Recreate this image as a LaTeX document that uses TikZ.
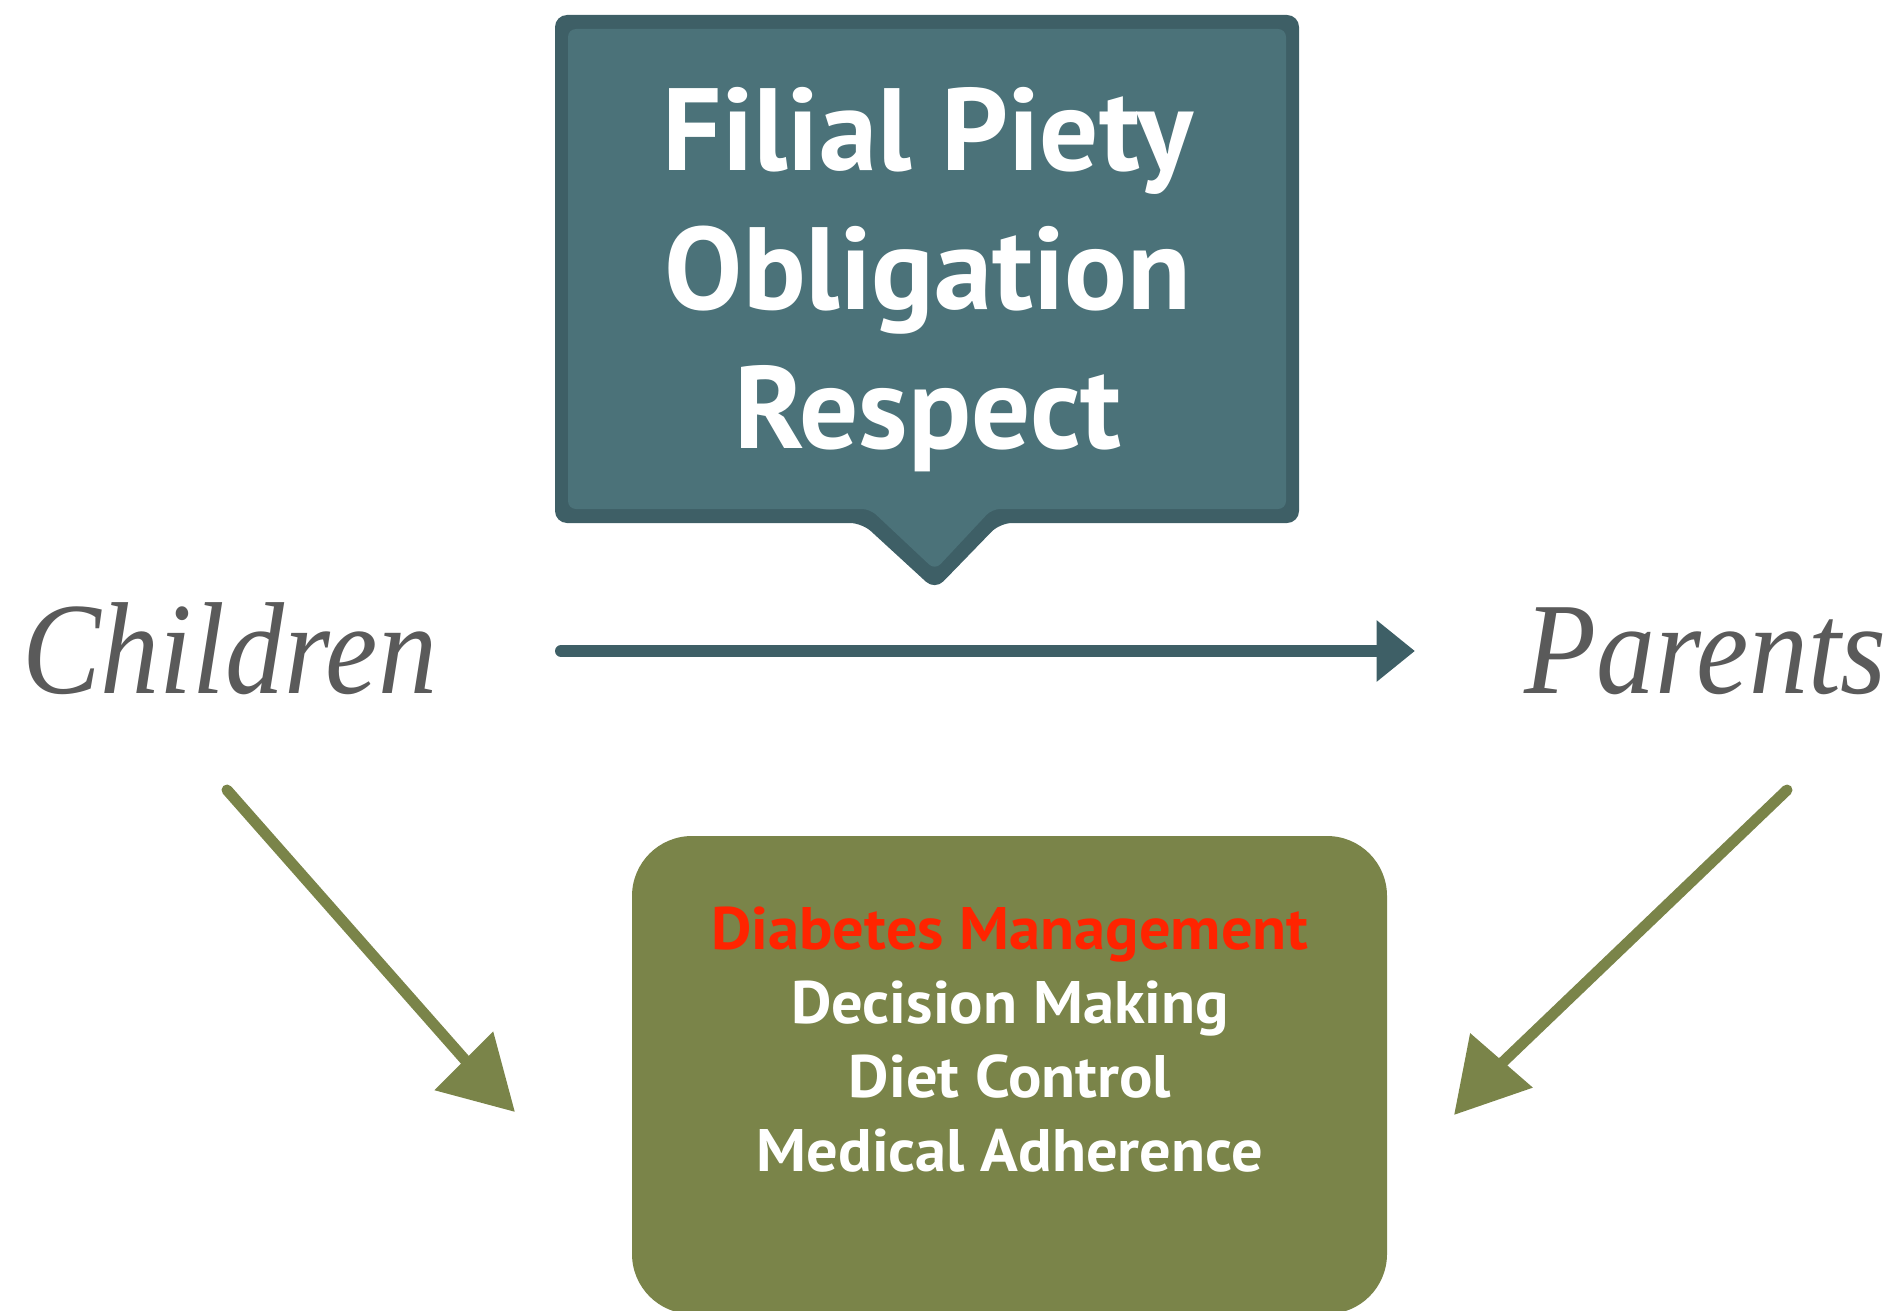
\documentclass[tikz,border=0pt]{standalone}
\usepackage{fontspec}
\setmainfont{Liberation Serif}
\newfontfamily\boxfont{PT Sans}
\usetikzlibrary{calc,shapes.geometric}
\definecolor{tealdark}{HTML}{3E5F66}
\definecolor{teallight}{HTML}{4B7279}
\definecolor{olivegr}{HTML}{7A8449}
\definecolor{redtxt}{HTML}{FF2400}
\definecolor{graytxt}{HTML}{5A5A5A}
\tikzset{
  bigtxt/.style={font=\boxfont\bfseries\fontsize{117}{139}\selectfont, text=white, align=center, inner sep=0pt},
  smalltxt/.style={font=\boxfont\bfseries\fontsize{60}{74}\selectfont, text=white, align=center, inner sep=0pt},
  sidetxt/.style={font=\itshape\fontsize{131}{140}\selectfont, text=graytxt, inner sep=0pt},
  shaftline/.style={draw=olivegr, line width=11pt, line cap=round},
  headnode/.style={isosceles triangle, isosceles triangle apex angle=60, fill=olivegr, inner sep=0pt, minimum height=72pt, anchor=apex},
  tealhead/.style={isosceles triangle, isosceles triangle apex angle=78, fill=tealdark, inner sep=0pt, minimum height=38pt, anchor=apex},
  tealline/.style={draw=tealdark, line width=12pt, line cap=round},
}
\begin{document}
\begin{tikzpicture}[x=1pt,y=-1pt]
\useasboundingbox (0,0) rectangle (1900,1311);
% blue speech box
\fill[tealdark, rounded corners=12pt] (555,15) -- (1299,15) -- (1299,523) -- (1000,523)
  -- (935,590) -- (862,523) -- (555,523) -- cycle;
\fill[teallight, rounded corners=8pt] (568,29) -- (1286,29) -- (1286,509) -- (992,509)
  -- (935,570) -- (870,509) -- (568,509) -- cycle;
\node[bigtxt, anchor=base] (filial) at (928,170) {Filial Piety};
\node[bigtxt, anchor=base] (oblig) at (928,309) {Obligation};
\node[bigtxt, anchor=base] (respect) at (928,448) {Respect};
% side labels
\node[sidetxt, anchor=base west] (children) at (22,693) {\scalebox{0.9}[1]{Children}};
\node[sidetxt, anchor=base east] (parents) at (1887,693) {\scalebox{0.9}[1]{Parents}};
% horizontal arrow
\coordinate (hstart) at (561,651);
\coordinate (hend) at (1415,651);
\node[tealhead] (hhead) at (hend) {};
\draw[tealline] (hstart) -- (hhead.center);
% green box
\node[fill=olivegr, rounded corners=60pt, minimum width=755pt, minimum height=478pt, inner sep=0pt] (green) at (1009.5,1075) {};
\node[smalltxt, anchor=base, text=redtxt] (l1) at (1010,949) {\scalebox{1.04}[1]{Diabetes Management}};
\node[smalltxt, anchor=base] (l2) at (1010,1023) {\scalebox{1.04}[1]{Decision Making}};
\node[smalltxt, anchor=base] (l3) at (1010,1097) {\scalebox{1.04}[1]{Diet Control}};
\node[smalltxt, anchor=base] (l4) at (1010,1171) {\scalebox{1.04}[1]{Medical Adherence}};
% left sketchy arrow
\coordinate (ls) at (227,790);
\coordinate (lt) at (515,1112);
\node[headnode, rotate=-45] (lhead) at (lt) {};
\draw[shaftline] (ls) -- (lhead.center);
% right sketchy arrow
\coordinate (rs) at (1787,790);
\coordinate (rt) at (1454,1115);
\node[headnode, rotate=-131] (rhead) at (rt) {};
\draw[shaftline] (rs) -- (rhead.center);
\end{tikzpicture}
\end{document}
